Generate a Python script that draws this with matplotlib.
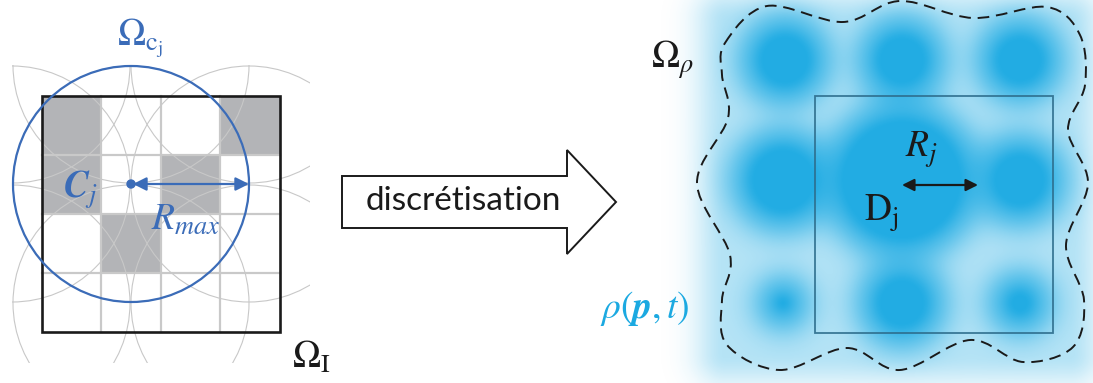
import numpy as np
import matplotlib.pyplot as plt
from matplotlib.patches import Rectangle, Circle, Polygon, PathPatch
from matplotlib.path import Path

plt.rcParams['mathtext.fontset'] = 'stix'

W, H = 1093, 383
BLUE = '#3b6cb8'
CYAN = '#1ba9e1'

# left panel: 4x4 image grid (pixel coords)
grid_x = [42, 101, 161, 220, 280]
grid_y = [96, 155, 214, 273, 332]
filled_cells = [(0, 0), (3, 0), (0, 1), (2, 1), (1, 2)]  # (col, row) from top
r_max = 118
# centres of the thin grey covering circles (spacing = r_max)
cover_x = [12, 131, 249]
cover_y = [65, 184, 303]
center_pt = (131, 184)

# right panel: 3x3 density blobs
blob_x = [785, 902, 1020, 783, 902, 1020, 783, 902, 1020]
blob_y = [60, 60, 60, 180, 180, 180, 303, 303, 303]
blob_r = [29, 28, 27, 36, 64, 30, 8, 28, 14]
rho_box = [815, 96, 1053, 333]

# dashed boundary of Omega_rho (control points, clockwise)
bound_x = [725, 767, 843, 900, 973, 1047, 1080, 1085, 1068, 1088, 1066, 1084,
           1073, 1023, 970, 900, 847, 780, 727, 722, 730, 697, 728, 722]
bound_y = [43, 6, 22, 1, 18, 7, 35, 85, 130, 183, 245, 300,
           347, 362, 340, 370, 348, 370, 345, 300, 255, 183, 118, 75]

# arrow shape "discrétisation"
arrow_x = [342, 567, 567, 616, 567, 567, 342]
arrow_y = [176, 176, 150, 202, 254, 228, 228]


def closed_catmull_path(px, py):
    pts = np.column_stack([px, py]).astype(float)
    n = len(pts)
    verts = [pts[0]]
    codes = [Path.MOVETO]
    for i in range(n):
        p0, p1, p2, p3 = pts[i - 1], pts[i], pts[(i + 1) % n], pts[(i + 2) % n]
        verts += [p1 + (p2 - p0) / 6, p2 - (p3 - p1) / 6, p2]
        codes += [Path.CURVE4] * 3
    return Path(verts, codes)


fig = plt.figure(figsize=(W / 100, H / 100), dpi=100)
ax = fig.add_axes([0, 0, 1, 1])
ax.set_xlim(0, W)
ax.set_ylim(H, 0)
ax.axis('off')

# ---- left panel ----
for c, r in filled_cells:
    ax.add_patch(Rectangle((grid_x[c], grid_y[r]), grid_x[c + 1] - grid_x[c],
                           grid_y[r + 1] - grid_y[r], color='#b3b4b7', lw=0, zorder=1))
for gx in grid_x[1:-1]:
    ax.plot([gx, gx], [grid_y[0], grid_y[-1]], color='#c9c9c9', lw=1.6, zorder=2)
for gy in grid_y[1:-1]:
    ax.plot([grid_x[0], grid_x[-1]], [gy, gy], color='#c9c9c9', lw=1.6, zorder=2)

clip = Rectangle((12, 65), 298, 298, transform=ax.transData, visible=False)
ax.add_patch(clip)
for cx in cover_x:
    for cy in cover_y:
        circ = Circle((cx, cy), r_max, fill=False, ec='#c8c8c8', lw=0.8, zorder=2)
        ax.add_patch(circ)
        circ.set_clip_path(clip)

ax.add_patch(Rectangle((grid_x[0], grid_y[0]), grid_x[-1] - grid_x[0],
                       grid_y[-1] - grid_y[0], fill=False, ec='#1a1a1a', lw=1.9, zorder=3))

ccx, ccy = center_pt
ax.add_patch(Circle((ccx, ccy), r_max, fill=False, ec=BLUE, lw=1.6, zorder=4))
ax.add_patch(Circle((ccx, ccy), 4, color=BLUE, zorder=5))
ax.annotate('', xy=(ccx + r_max, ccy), xytext=(ccx + 2, ccy),
            arrowprops=dict(arrowstyle='<|-|>', color=BLUE, lw=1.6,
                            mutation_scale=20, shrinkA=0, shrinkB=0), zorder=5)

ax.text(140, 38, r'$\Omega_{\mathrm{c_j}}$', color=BLUE, fontsize=27, ha='center', va='center')
ax.text(80, 190, r'$\boldsymbol{C}_j$', color=BLUE, fontsize=27, ha='center', va='center')
ax.text(186, 220, r'$R_{max}$', color=BLUE, fontsize=27, ha='center', va='center')
ax.text(311, 358, r'$\Omega_{\mathrm{I}}$', color='#1a1a1a', fontsize=27, ha='center', va='center')

# ---- middle arrow ----
ax.add_patch(Polygon(np.column_stack([arrow_x, arrow_y]), closed=True,
                     fc='white', ec='#1a1a1a', lw=1.4, zorder=3))
ax.text(463, 201, 'discrétisation', fontsize=24, family='Lato', color='#1a1a1a',
        ha='center', va='center', zorder=4)

# ---- right panel: density image ----
xs = np.arange(640, W) + 0.5
ys = np.arange(0, H) + 0.5
X, Y = np.meshgrid(xs, ys)
keep = np.ones_like(X)
for bx, by, br in zip(blob_x, blob_y, blob_r):
    d = np.hypot(X - bx, Y - by)
    core = 0.9 / (1 + np.exp((d - br) / 3.5))
    halo = 0.65 * np.exp(-np.clip(d - br, 0, None) ** 2 / (2 * 18.0 ** 2))
    keep *= (1 - core) * (1 - halo)
dx = np.maximum.reduce([726 - X, np.zeros_like(X), X - 1070])
dy = np.maximum.reduce([20 - Y, np.zeros_like(Y), Y - 354])
glow = 0.32 * np.exp(-np.hypot(dx, dy) ** 2 / (2 * 22.0 ** 2))
alpha = 1 - (1 - glow) * keep
img = np.zeros(X.shape + (4,))
img[..., 0] = 22 / 255
img[..., 1] = 168 / 255
img[..., 2] = 226 / 255
img[..., 3] = np.clip(alpha, 0, 0.95)
ax.imshow(img, extent=(640, W, H, 0), interpolation='bilinear', zorder=1, aspect='auto')

ax.add_patch(Rectangle((rho_box[0], rho_box[1]), rho_box[2] - rho_box[0],
                       rho_box[3] - rho_box[1], fill=False, ec='#2d6d8c', lw=1.3,
                       alpha=0.9, zorder=3))

ax.add_patch(PathPatch(closed_catmull_path(bound_x, bound_y), fill=False,
                       ec='#1a1a1a', lw=1.4, ls=(0, (6, 3.5)), zorder=3))

ax.annotate('', xy=(978, 185), xytext=(902, 185),
            arrowprops=dict(arrowstyle='<|-|>', color='#1a1a1a', lw=1.6,
                            mutation_scale=18, shrinkA=0, shrinkB=0), zorder=5)

ax.text(921, 150, r'$R_j$', color='#1a1a1a', fontsize=27, ha='center', va='center', zorder=6)
ax.text(881, 213, r'$\mathrm{D_j}$', color='#1a1a1a', fontsize=27, ha='center', va='center', zorder=6)
ax.text(672, 60, r'$\Omega_\rho$', color='#1a1a1a', fontsize=27, ha='center', va='center', zorder=6)
ax.text(645, 308, r'$\rho(\boldsymbol{p},t)$', color=CYAN, fontsize=27, ha='center', va='center', zorder=6)

fig.savefig('out.png', dpi=100)
